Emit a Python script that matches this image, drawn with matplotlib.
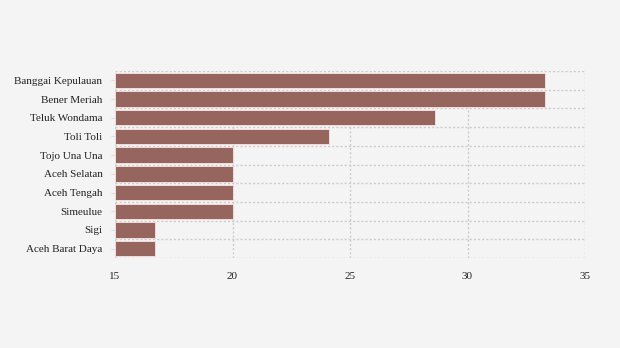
import numpy as np
import matplotlib.pyplot as plt

regions = ["Banggai Kepulauan", "Bener Meriah", "Teluk Wondama", "Toli Toli",
           "Tojo Una Una", "Aceh Selatan", "Aceh Tengah", "Simeulue",
           "Sigi", "Aceh Barat Daya"]
values = [33.3, 33.3, 28.6, 24.1, 20.0, 20.0, 20.0, 20.0, 16.7, 16.7]
xticks = [15, 20, 25, 30, 35]

bg = '#f4f4f4'
plt.rcParams['font.family'] = ['Liberation Serif', 'DejaVu Serif']

fig = plt.figure(figsize=(6.2, 3.48), dpi=100, facecolor=bg)
ax = fig.add_axes([115 / 620, 1 - 258 / 348, 470 / 620, 187 / 348], facecolor=bg)

pos = np.arange(len(regions))
ax.barh(pos, [v - 15 for v in values], left=15, height=0.82,
        color='#96665e', edgecolor='#f3dcdc', linewidth=0.7, zorder=2)

ax.set_xlim(15, 35)
ax.set_ylim(len(regions) - 0.5, -0.5)
ax.set_xticks(xticks)
ax.set_xticklabels([str(t) for t in xticks])
ax.set_yticks(pos)
ax.set_yticklabels(regions)

# grid: vertical at ticks, horizontal between the bars
for t in xticks:
    ax.axvline(t, color='#cccccc', linestyle=(0, (1.5, 1.5)), linewidth=1, zorder=1)
for b in np.arange(-0.5, len(regions), 1.0):
    ax.axhline(b, color='#cccccc', linestyle=(0, (1.5, 1.5)), linewidth=1, zorder=1)

for s in ax.spines.values():
    s.set_visible(False)
ax.tick_params(axis='x', length=0, pad=10, labelsize=8, labelcolor='#222222')
ax.tick_params(axis='y', length=3, color='#dddddd', pad=6, labelsize=8,
               labelcolor='#222222')

fig.savefig('out.png', dpi=100, facecolor=bg)
